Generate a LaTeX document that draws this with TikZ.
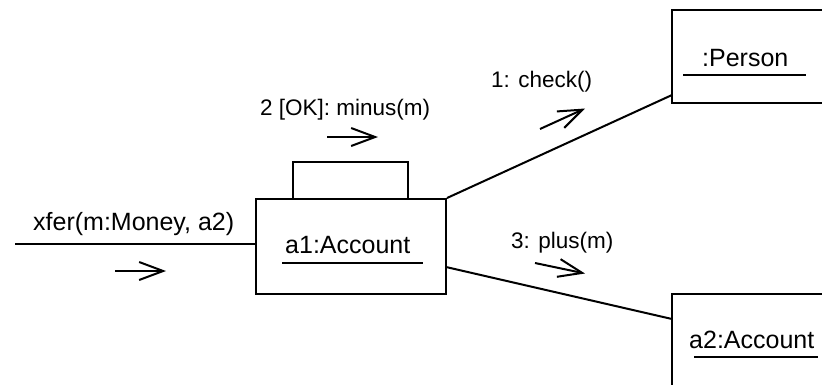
\documentclass[tikz,border=0pt]{standalone}
\usepackage{fontspec}
\setmainfont{Liberation Sans}
\usetikzlibrary{arrows.meta}
\begin{document}
\begin{tikzpicture}[x=1pt,y=-1pt,
  objbox/.style={draw,line width=2pt,rectangle,inner sep=0pt},
  label/.style={anchor=base west,inner sep=0pt,font=\fontsize{25}{30}\selectfont},
  msglabel/.style={label,font=\fontsize{22.5}{27}\selectfont},
  link/.style={line width=2pt},
  uline/.style={line width=2pt},
  msg/.style={line width=2pt,-{Straight Barb[length=24pt,width=18pt,line width=2pt]}}]
\useasboundingbox (0,0) rectangle (822,384);
\clip (0,0) rectangle (822,384);

% objects
\node[objbox,minimum width=190pt,minimum height=95pt] (a1) at (351,246.5) {};
\node[objbox,minimum width=115pt,minimum height=37pt] (tab) at (350.5,180.5) {};
\node[objbox,minimum width=168pt,minimum height=93pt] (pers) at (756,56.5) {};
\node[objbox,minimum width=168pt,minimum height=106pt] (a2) at (756,347) {};

% object names, underlined
\node[label] (a1name) at (285,253) {a1:Account};
\draw[uline] (282,263) -- (423,263);
\node[label] (persname) at (702,66) {:Person};
\draw[uline] (683,75) -- (806,75);
\node[label] (a2name) at (689,348) {a2:Account};
\draw[uline] (694,357) -- (818,357);

% links
\coordinate (xin) at (15,244);
\draw[link] (xin) -- (xin -| a1.west);
\coordinate (pin) at (672,95);
\draw[link] (a1.north east) -- (pin);
\coordinate (aout) at (446,267);
\coordinate (ain) at (672,319);
\draw[link] (aout) -- (ain);

% messages
\node[label] (m0) at (33,230) {xfer(m:Money, a2)};
\coordinate (m0s) at (115,271); \coordinate (m0e) at (166,271);
\draw[msg] (m0s) -- (m0e);

\node[msglabel] (m2) at (260,115) {2 [OK]: minus(m)};
\coordinate (m2s) at (327,137); \coordinate (m2e) at (378,137);
\draw[msg] (m2s) -- (m2e);

\node[msglabel] (m1) at (491,87) {1: check()};
\coordinate (m1s) at (540,129); \coordinate (m1e) at (585,108.5);
\draw[msg] (m1s) -- (m1e);

\node[msglabel] (m3) at (511,248) {3: plus(m)};
\coordinate (m3s) at (535,263); \coordinate (m3e) at (585,273.5);
\draw[msg] (m3s) -- (m3e);
\end{tikzpicture}
\end{document}
